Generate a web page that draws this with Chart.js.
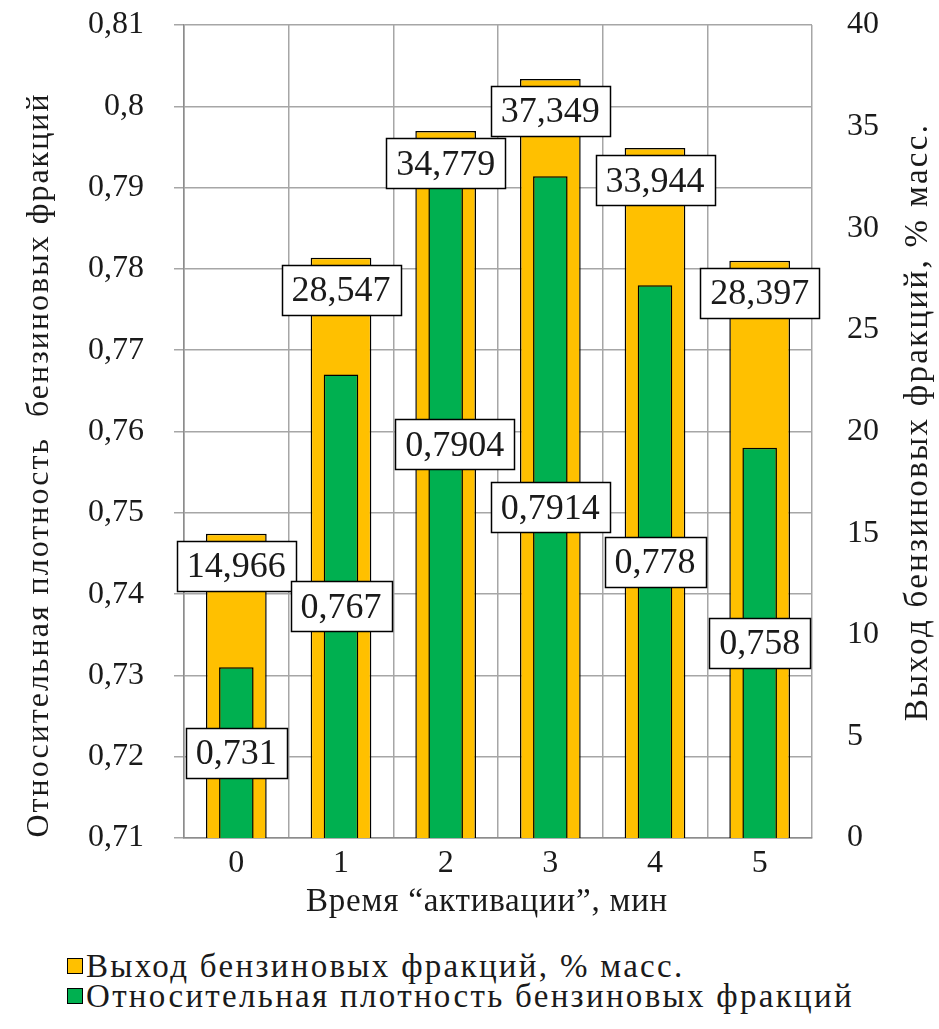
<!DOCTYPE html>
<html>
<head>
<meta charset="utf-8">
<script src="https://cdn.jsdelivr.net/npm/chart.js@4/dist/chart.umd.min.js"></script>
<style>
  html, body { margin: 0; padding: 0; background: #fff; }
  #wrap { position: relative; width: 939px; height: 1029px; }
  #chart { position: absolute; left: 0; top: 0; }
  .legend { position: absolute; left: 67px; top: 951px; font-family: "Liberation Serif", "Times New Roman", serif; font-size: 33px; letter-spacing: 2.3px; line-height: 30px; color: #1a1a1a; }
  .legend div { display: flex; align-items: center; white-space: nowrap; }
  .legend span.box { display: inline-block; width: 14px; height: 14px; border: 1px solid #000; margin-right: 3px; }
</style>
</head>
<body>
<div id="wrap">
  <canvas id="chart" width="939" height="940"></canvas>
  <div class="legend">
    <div><span class="box" style="background:#FFC000"></span>Выход бензиновых фракций, % масс.</div>
    <div><span class="box" style="background:#00B050"></span>Относительная плотность бензиновых фракций</div>
  </div>
</div>
<script>
// data
const categories = ["0", "1", "2", "3", "4", "5"];
const yieldValues = [14.966, 28.547, 34.779, 37.349, 33.944, 28.397];
const densityValues = [0.731, 0.767, 0.7904, 0.7914, 0.778, 0.758];
const yieldLabel = "Выход бензиновых фракций, % масс.";
const densityLabel = "Относительная плотность бензиновых фракций";
const leftTitle = "Относительная плотность  бензиновых фракций";
const rightTitle = "Выход бензиновых фракций, % масс.";
const xTitle = "Время “активации”, мин";

// one density label was dragged by hand in the original (px offsets)
const densityLabelNudge = [[0, 0], [0, 0], [9, -67], [0, 0], [0, 0], [0, 0]];

const FONT = "'Liberation Serif', 'Times New Roman', serif";
const GRID = "#a6a6a6";
const INK = "#1a1a1a";

const comma = (v) => String(v).replace(".", ",");

function drawBox(ctx, text, cx, cy) {
  const w = ctx.measureText(text).width + 20;
  const h = 50;
  const x0 = Math.round(cx - w / 2) + 0.5;
  const y0 = Math.round(cy - h / 2) + 0.5;
  ctx.fillStyle = "#fff";
  ctx.fillRect(x0, y0, w, h);
  ctx.strokeStyle = "#000";
  ctx.lineWidth = 1.5;
  ctx.strokeRect(x0, y0, w, h);
  ctx.fillStyle = INK;
  ctx.fillText(text, cx, cy + 2);
}

// boxed value labels: yield just under the bar top, density centred in bar
const boxLabels = {
  id: "boxLabels",
  afterDatasetsDraw(chart) {
    const ctx = chart.ctx;
    const xs = chart.scales.x;
    const y = chart.scales.y;
    const y1 = chart.scales.y1;
    ctx.save();
    ctx.font = "36px " + FONT;
    ctx.textAlign = "center";
    ctx.textBaseline = "middle";
    yieldValues.forEach((v, i) => {
      drawBox(ctx, comma(v), xs.getPixelForValue(i), y1.getPixelForValue(v) + 7 + 25);
    });
    densityValues.forEach((v, i) => {
      const top = y.getPixelForValue(v);
      const base = y.getPixelForValue(y.min);
      const [dx, dy] = densityLabelNudge[i];
      drawBox(ctx, comma(v), xs.getPixelForValue(i) + dx, (top + base) / 2 + dy);
    });
    ctx.restore();
  },
};

// axis titles drawn by hand (wide letter spacing, right one reads bottom-to-top)
const axisTitles = {
  id: "axisTitles",
  afterDraw(chart) {
    const ctx = chart.ctx;
    ctx.save();
    ctx.fillStyle = INK;
    ctx.textAlign = "center";

    ctx.textBaseline = "alphabetic";
    ctx.font = "33px " + FONT;
    ctx.letterSpacing = "0.8px";
    ctx.fillText(xTitle, 487, 911);

    ctx.textBaseline = "middle";
    ctx.font = "32px " + FONT;
    ctx.letterSpacing = "2px";
    ctx.save();
    ctx.translate(40, 465);
    ctx.rotate(-Math.PI / 2);
    ctx.fillText(leftTitle, 0, 0);
    ctx.restore();

    ctx.font = "33px " + FONT;
    ctx.letterSpacing = "2.3px";
    ctx.translate(918, 422);
    ctx.rotate(-Math.PI / 2);
    ctx.fillText(rightTitle, 0, 0);
    ctx.restore();
  },
};

const noOverhang = (scale) => {
  scale.paddingTop = 0;
  scale.paddingBottom = 0;
};

new Chart(document.getElementById("chart"), {
  type: "bar",
  data: {
    labels: categories,
    datasets: [
      {
        label: yieldLabel,
        data: yieldValues,
        yAxisID: "y1",
        backgroundColor: "#FFC000",
        borderColor: "#000",
        borderWidth: 1.5,
        grouped: false,
        categoryPercentage: 1,
        barPercentage: 0.58,
        order: 1,
      },
      {
        label: densityLabel,
        data: densityValues,
        yAxisID: "y",
        backgroundColor: "#00B050",
        borderColor: "#000",
        borderWidth: 1.5,
        grouped: false,
        categoryPercentage: 1,
        barPercentage: 0.33,
        order: 0,
      },
    ],
  },
  options: {
    responsive: false,
    animation: false,
    layout: { padding: { top: 25, left: 0, right: 0, bottom: 0 } },
    plugins: {
      legend: { display: false },
      tooltip: { enabled: false },
    },
    scales: {
      x: {
        offset: true,
        grid: { color: GRID, lineWidth: 1.5, drawTicks: false },
        border: { color: "#8c8c8c", width: 1.5 },
        ticks: { font: { family: FONT, size: 32 }, color: INK, padding: 6 },
        afterFit(scale) { scale.height = 102; },
      },
      y: {
        position: "left",
        min: 0.71,
        max: 0.81,
        grid: { color: GRID, lineWidth: 1.5, tickLength: 10 },
        border: { color: "#8c8c8c", width: 1.5 },
        ticks: {
          stepSize: 0.01,
          font: { family: FONT, size: 32 },
          color: INK,
          padding: 30,
          callback: (v) => comma(Number(v.toFixed(2))),
        },
        afterFit(scale) { scale.width = 184; noOverhang(scale); },
      },
      y1: {
        position: "right",
        min: 0,
        max: 40,
        grid: { display: false },
        border: { display: false },
        ticks: {
          stepSize: 5,
          font: { family: FONT, size: 32 },
          color: INK,
          padding: 27,
        },
        afterFit(scale) { scale.width = 127; noOverhang(scale); },
      },
    },
  },
  plugins: [boxLabels, axisTitles],
});
</script>
</body>
</html>
